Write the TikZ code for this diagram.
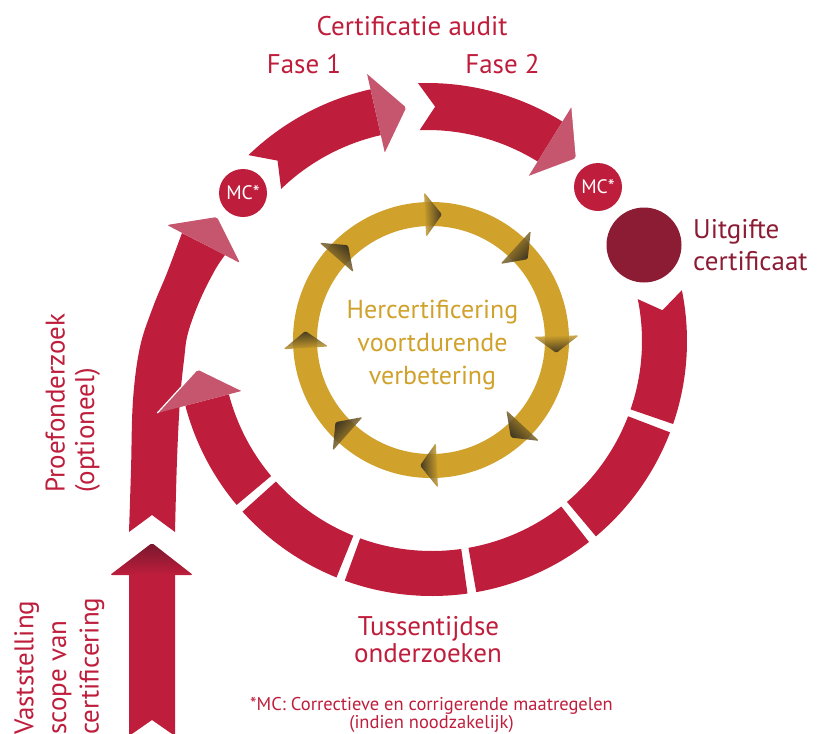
\documentclass[tikz,border=0pt]{standalone}
\usepackage{fontspec}
\setmainfont{PT Sans}
\usetikzlibrary{calc}
\definecolor{redc}{RGB}{190,30,60}
\definecolor{darkc}{RGB}{140,28,52}
\definecolor{pinkc}{RGB}{197,86,110}
\definecolor{goldc}{RGB}{208,162,44}
\definecolor{goldd}{RGB}{40,36,32}
\newcommand\PP[4]{({#1+(#4)*cos(#3)},{#2+(#4)*sin(#3)})}
% ring segment with notched tail: cx cy t1 t2 rin rout notch
\newcommand\SegN[7]{\fill[redc] \PP{#1}{#2}{#3}{#6} arc[start angle=#3,end angle=#4,radius=#6] -- \PP{#1}{#2}{#4}{#5} arc[start angle=#4,end angle=#3,radius=#5] -- \PP{#1}{#2}{#7}{(#5+#6)/2} -- cycle;}
% plain ring segment: cx cy t1 t2 rin rout
\newcommand\Band[6]{\fill[redc] \PP{#1}{#2}{#3}{#6} arc[start angle=#3,end angle=#4,radius=#6] -- \PP{#1}{#2}{#4}{#5} arc[start angle=#4,end angle=#3,radius=#5] -- cycle;}
% arrow head: cx cy tbase r1 r2 ttip rtip
\newcommand\RHead[7]{\fill[pinkc,rounded corners=2pt] \PP{#1}{#2}{#3}{#4} -- \PP{#1}{#2}{#6}{#7} -- \PP{#1}{#2}{#3}{#5} -- cycle;
 \draw[white,line width=1.2pt,rounded corners=2pt] \PP{#1}{#2}{#3}{#4} -- \PP{#1}{#2}{#6}{#7} -- \PP{#1}{#2}{#3}{#5};}
% gold head: tbase, shading angle
\newcommand\GHead[2]{\shade[top color=goldd, bottom color=goldc, shading angle=#2, opacity=0.85, rounded corners=1.5pt] \PP{431}{340}{#1}{103} -- \PP{431}{340}{#1+7.7}{126} -- \PP{431}{340}{#1}{148} -- cycle;}
\begin{document}
\begin{tikzpicture}[x=1pt,y=-1pt,
  lbl/.style={text=redc, font=\fontsize{27}{30}\selectfont, inner sep=0pt},
  goldlbl/.style={text=goldc, font=\fontsize{26}{30}\selectfont, inner sep=0pt},
  small/.style={text=redc, font=\fontsize{18.5}{20}\selectfont, inner sep=0pt},
  mc/.style={circle, fill=redc, minimum size=48pt, inner sep=0pt, text=white, font=\fontsize{19.5}{21}\selectfont}]
\useasboundingbox (0,0) rectangle (823,734);
% bottom vertical arrow
\shade[top color=darkc!85!black, bottom color=redc, rounded corners=2pt] (110,575) -- (152,543) -- (193,575) -- cycle;
\fill[redc] (129,574) -- (175,574) -- (175,736) -- (152,720) -- (129,736) -- cycle;
% spiral shaft
\fill[redc] plot[smooth,tension=0.6] coordinates {(129,532) (131,470) (133,400) (140,347) (153,307) (167,273) (182,233)} -- plot[smooth,tension=0.6] coordinates {(225,255) (215,270) (200,300) (188,333) (184,360) (180,400) (177,460) (175,532)} -- (152,515) -- cycle;
\fill[pinkc,rounded corners=2pt] (167,225) -- (217,217) -- (240,263) -- cycle;
% circles
\node[mc] (mc1) at (243,193) {MC*};
\node[mc] (mc2) at (598,187) {MC*};
\node[circle, fill=darkc, minimum size=75pt, inner sep=0pt] (cert) at (644,245) {};
% top ring arrows
\SegN{427}{340}{-134}{-102.7}{210}{257}{-129.8}
\RHead{427}{340}{-102.7}{191}{274}{-94.9}{233.5}
\SegN{427}{340}{-92}{-58.2}{210}{257}{-88}
\RHead{427}{340}{-58.2}{192}{275}{-50.5}{235}
% bottom ring
\SegN{432}{341}{-11.5}{19}{210}{255}{-7.6}
\Band{432}{341}{21}{50}{210}{255}
\Band{432}{341}{52}{80}{210}{255}
\Band{432}{341}{82}{110}{210}{255}
\Band{432}{341}{112}{138}{210}{255}
\Band{432}{341}{140}{165.3}{210}{255}
\RHead{432}{341}{165.3}{196}{284}{173.2}{236}
% gold ring
\draw[goldc, line width=24pt] (431,340) circle[radius=126];
\GHead{-92.7}{-87.3}
\GHead{-47.6}{-132.4}
\GHead{-1.8}{-178.2}
\GHead{43}{137}
\GHead{87.3}{92.7}
\GHead{131.6}{48.4}
\GHead{176.4}{3.6}
\GHead{-138.9}{-41.1}
% texts
\node[lbl, anchor=base] (t1) at (412,35) {Certificatie audit};
\node[lbl, anchor=base] (t2) at (304,73) {Fase 1};
\node[lbl, anchor=base] (t3) at (502.5,73) {Fase 2};
\node[lbl, text=darkc, anchor=base west] (t4) at (693,238) {Uitgifte};
\node[lbl, text=darkc, anchor=base west] (t5) at (693,270) {certificaat};
\node[lbl, rotate=90, anchor=base west] (t6) at (64.5,493) {Proefonderzoek};
\node[lbl, rotate=90, anchor=base west] (t7) at (94,493) {(optioneel)};
\node[lbl, rotate=90, anchor=base west] (t8) at (33.5,735) {Vaststelling};
\node[lbl, rotate=90, anchor=base west] (t9) at (66,735) {scope van};
\node[lbl, rotate=90, anchor=base west] (t10) at (98.5,735) {certificering};
\node[lbl, anchor=base] (t11) at (428.5,635) {Tussentijdse};
\node[lbl, anchor=base] (t12) at (428,662) {onderzoeken};
\node[small, anchor=base] (t13) at (431.5,710) {*MC: Correctieve en corrigerende maatregelen};
\node[small, anchor=base] (t14) at (431.5,728) {(indien noodzakelijk)};
\node[goldlbl, anchor=base] (g1) at (432.5,318) {Hercertificering};
\node[goldlbl, anchor=base] (g2) at (432.5,351.5) {voortdurende};
\node[goldlbl, anchor=base] (g3) at (432.5,384) {verbetering};
\end{tikzpicture}
\end{document}
